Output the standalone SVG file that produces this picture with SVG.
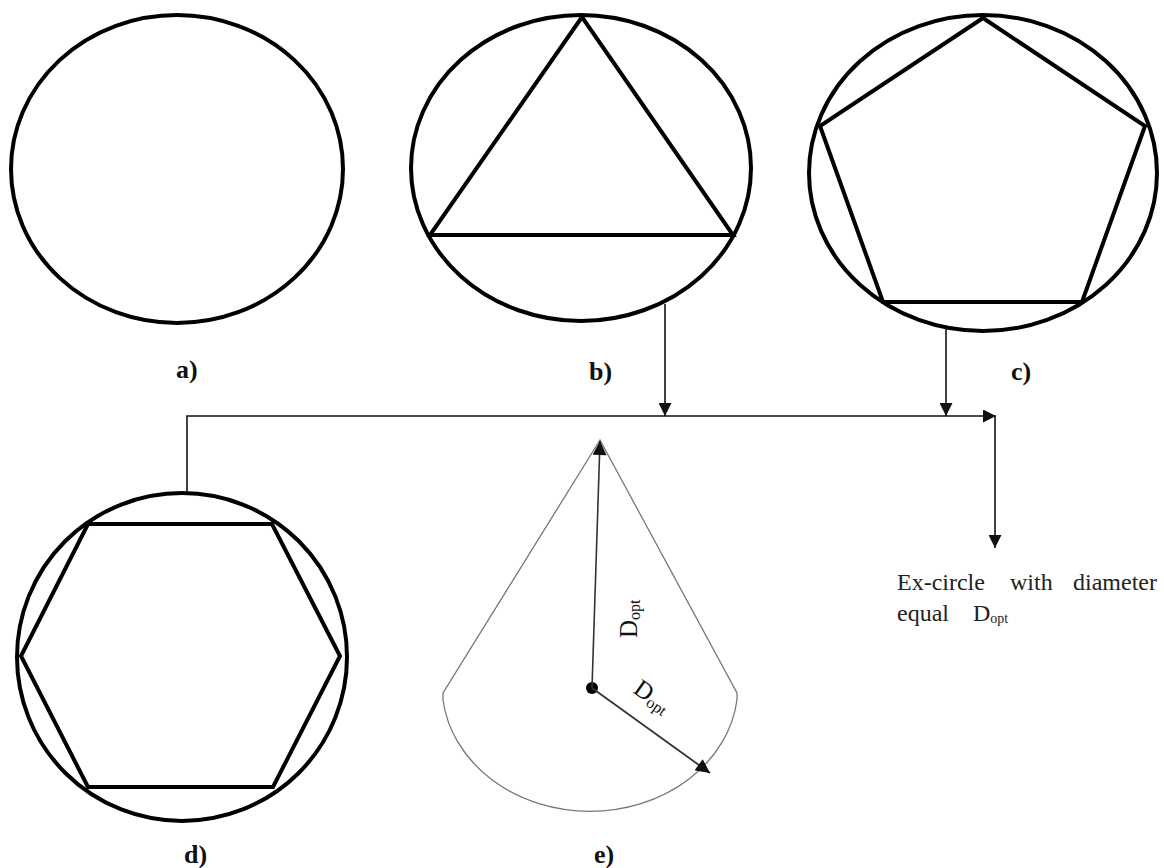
<svg xmlns="http://www.w3.org/2000/svg" width="1164" height="868" viewBox="0 0 1164 868">
<style>
.shape{fill:none;stroke:#000;stroke-width:4;stroke-linejoin:miter}
.conn{fill:none;stroke:#111;stroke-width:1.6}
.cone{fill:none;stroke:#777;stroke-width:1.3}
.lbl{font-family:"Liberation Serif",serif;font-weight:bold;font-size:26px;fill:#111}
.txt{font-family:"Liberation Serif",serif;font-size:24px;fill:#222}
.dt{font-family:"Liberation Serif",serif;font-size:25px;fill:#111}
</style>
<defs>
<marker id="ah" viewBox="0 0 10 10" refX="10" refY="5" markerWidth="14" markerHeight="13" markerUnits="userSpaceOnUse" orient="auto">
<path d="M0,0 L10,5 L0,10 z" fill="#111"/>
</marker>
<marker id="ahs" viewBox="0 0 10 10" refX="10" refY="5" markerWidth="15" markerHeight="14" markerUnits="userSpaceOnUse" orient="auto">
<path d="M0,0 L10,5 L0,10 z" fill="#111"/>
</marker>
</defs>
<rect width="1164" height="868" fill="#fff"/>
<g id="node-a">
<ellipse class="shape" cx="177" cy="169" rx="166" ry="154"/>
<text class="lbl" x="176" y="378">a)</text>
</g>
<g id="node-b">
<ellipse class="shape" cx="581" cy="168" rx="170" ry="153"/>
<polygon class="shape" points="582,17 430,235 733,235"/>
<text class="lbl" x="589" y="380">b)</text>
</g>
<g id="node-c">
<ellipse class="shape" cx="983" cy="173" rx="174" ry="158"/>
<polygon class="shape" points="983,18 1145,126 1082,302 883,302 820,126"/>
<text class="lbl" x="1011" y="380">c)</text>
</g>
<g id="node-d">
<ellipse class="shape" cx="182" cy="657" rx="165" ry="164"/>
<polygon class="shape" points="88,524 272,524 340,656 273,787 88,787 21,656"/>
<text class="lbl" x="184" y="863">d)</text>
</g>
<g id="node-e">
<path class="cone" d="M600,440 L443,693 L443,700 A148,126 0 0 0 737,700 L737,693 Z"/>
<circle cx="592" cy="688" r="6" fill="#000"/>
<line x1="592" y1="688" x2="600" y2="441" stroke="#333" stroke-width="1.6" marker-end="url(#ahs)"/>
<line x1="592" y1="688" x2="710" y2="773" stroke="#333" stroke-width="1.8" marker-end="url(#ahs)"/>
<text class="dt" transform="translate(637,638) rotate(-90)">D<tspan font-size="16" dy="3">opt</tspan></text>
<text class="dt" transform="translate(632,692) rotate(35)">D<tspan font-size="16" dy="3">opt</tspan></text>
<text class="lbl" x="594" y="863">e)</text>
</g>
<g id="node-result">
<text class="txt" x="897" y="590">Ex-circle</text>
<text class="txt" x="1010" y="590">with</text>
<text class="txt" x="1073" y="590">diameter</text>
<text class="txt" x="897" y="621">equal</text>
<text class="txt" x="973" y="621" font-size="20">D<tspan font-size="14" dy="2">opt</tspan></text>
</g>
<g id="connectors">
<polyline class="conn" points="187,493 187,416 996,416" marker-end="url(#ah)"/>
<line class="conn" x1="665" y1="304" x2="665" y2="416" marker-end="url(#ah)"/>
<line class="conn" x1="946" y1="328" x2="946" y2="416" marker-end="url(#ah)"/>
<line class="conn" x1="995" y1="416" x2="995" y2="548" marker-end="url(#ah)"/>
</g>
</svg>
